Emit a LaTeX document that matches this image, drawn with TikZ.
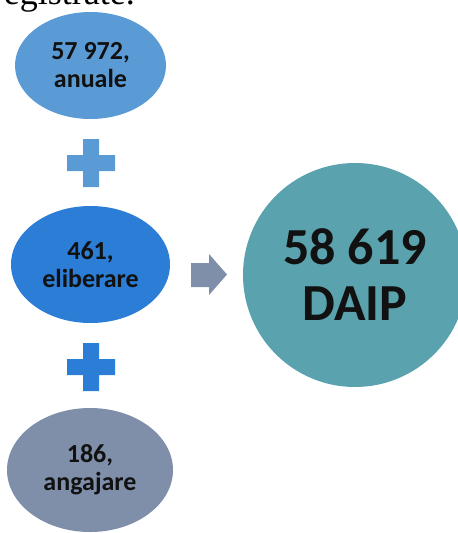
\documentclass[tikz,border=0pt]{standalone}
\usepackage{fontspec}
\setmainfont{Carlito}
\newfontfamily\bodyserif{Liberation Serif}
\usetikzlibrary{shapes.geometric}

\definecolor{annualblue}{HTML}{5B9BD5}
\definecolor{releaseblue}{HTML}{2B7DD6}
\definecolor{hiregray}{HTML}{7F8EA9}
\definecolor{totalteal}{HTML}{5AA3AE}
\definecolor{inktext}{HTML}{111111}

\tikzset{
  blob/.style={ellipse, inner sep=0pt, outer sep=0pt, align=center, text=inktext,
    font=\fontsize{26}{28}\selectfont\bfseries},
  bigdisc/.style={circle, inner sep=0pt, outer sep=0pt, align=center, text=inktext,
    font=\fontsize{52}{56}\selectfont\bfseries}
}

\begin{document}
\begin{tikzpicture}[y=1pt, x=1pt, yscale=-1]
\useasboundingbox (0,0) rectangle (458,533);
\clip (0,0) rectangle (458,533);

% text line cut off above
\node[anchor=base east, inner sep=0pt, font=\fontsize{36}{40}\selectfont\bodyserif] (caption) at (135,4) {egistrate.};

% the three parts
\node[blob, fill=annualblue, minimum width=151pt, minimum height=107pt] (annual) at (90.5,65.5) {57 972,\\anuale};
\node[blob, fill=releaseblue, minimum width=159pt, minimum height=117pt] (release) at (90.5,264.5) {461,\\eliberare};
\node[blob, fill=hiregray, minimum width=166pt, minimum height=124pt] (hire) at (90,470) {186,\\angajare};

% plus signs
\path[fill=annualblue] (83,139) rectangle (99,187) (67,155) rectangle (115,171);
\path[fill=releaseblue] (83,343) rectangle (99,391) (67,359) rectangle (115,375);

% block arrow
\path[fill=hiregray] (191,263) -- (209,263) -- (209,254) -- (227,274.5) -- (209,295)
  -- (209,287) -- (191,287) -- cycle;

% total
\node[bigdisc, fill=totalteal, minimum size=224pt] (total) at (355,275) {58 619\\DAIP};

\end{tikzpicture}
\end{document}
